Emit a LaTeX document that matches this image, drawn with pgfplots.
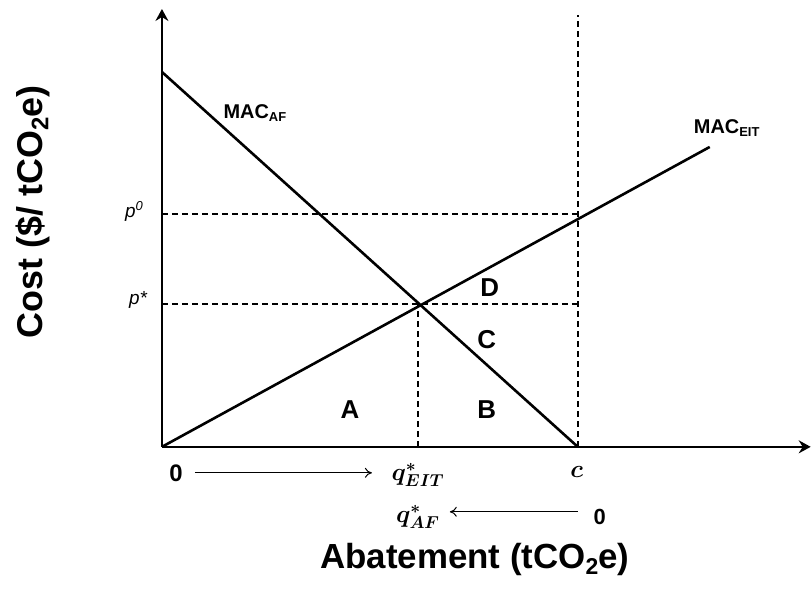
\documentclass[border=0pt]{standalone}
\usepackage{pgfplots}
\pgfplotsset{compat=1.18}
\usepackage{bm}
\usepackage{fontspec}
\setmainfont{Liberation Sans}
\usetikzlibrary{arrows.meta}
\newcommand{\fs}[1]{\fontsize{#1}{#1}\selectfont}
\begin{document}
\begin{tikzpicture}
\begin{axis}[
    x=1bp, y=1bp,
    xmin=0, xmax=650, ymin=0, ymax=438,
    axis lines=none,
    clip=false,
]
% axes
\addplot [line width=2.6bp, -{Stealth[length=12bp,width=13bp,inset=4bp]}] coordinates {(0,0) (649,0)};
\addplot [line width=2.6bp, -{Stealth[length=12bp,width=13bp,inset=4bp]}] coordinates {(0,0) (0,438)};
% dashed guides
\addplot [line width=1.7bp, dash pattern=on 6bp off 4bp] coordinates {(0,233) (416,233)};
\addplot [line width=1.7bp, dash pattern=on 6bp off 4bp] coordinates {(0,143) (416,143)};
\addplot [line width=1.7bp, dash pattern=on 6bp off 4bp] coordinates {(256,0) (256,143)};
\addplot [line width=1.7bp, dash pattern=on 6bp off 4bp] coordinates {(416,0) (416,432)};
% marginal abatement cost curves
\addplot [line width=2.6bp] coordinates {(0,375) (416,0)};
\addplot [line width=2.6bp] coordinates {(0,0) (548,300)};
% labels
\node at (axis cs:93,334) {\fs{20}\bfseries MAC\raisebox{-0.3ex}{\fs{13}AF}};
\node at (axis cs:565,319) {\fs{20}\bfseries MAC\raisebox{-0.3ex}{\fs{13}EIT}};
\node at (axis cs:-28,235) {\fs{19}\itshape p\raisebox{0.7ex}{\fs{13}0}};
\node at (axis cs:-24,147) {\fs{19}\itshape p*};
\node at (axis cs:328,159) {\fs{26}\bfseries D};
\node at (axis cs:325,107) {\fs{26}\bfseries C};
\node at (axis cs:188,37) {\fs{26}\bfseries A};
\node at (axis cs:325,37) {\fs{26}\bfseries B};
\node at (axis cs:14,-26) {\fs{24}\bfseries 0};
\draw [line width=1bp, -{To[length=7bp,width=10bp]}] (axis cs:33,-26) -- (axis cs:210,-26);
\node at (axis cs:256,-28) {\fs{23}$\bm{q^{*}_{EIT}}$};
\node at (axis cs:415,-25) {\fs{23}$\bm{c}$};
\node at (axis cs:256,-70) {\fs{23}$\bm{q^{*}_{AF}}$};
\draw [line width=1bp, -{To[length=7bp,width=10bp]}] (axis cs:416,-65) -- (axis cs:288,-65);
\node at (axis cs:438,-70) {\fs{22}$\mathbf{0}$};
\node at (axis cs:313,-113) {\fs{35}\bfseries Abatement (tCO\raisebox{-0.3ex}{\fs{23}2}e)};
\node [rotate=90] at (axis cs:-129,235) {\fs{36}\bfseries Cost (\$/ tCO\raisebox{-0.3ex}{\fs{24}2}e)};
\end{axis}
\path (-162bp,-143bp) rectangle (650bp,447bp);
\end{tikzpicture}
\end{document}
